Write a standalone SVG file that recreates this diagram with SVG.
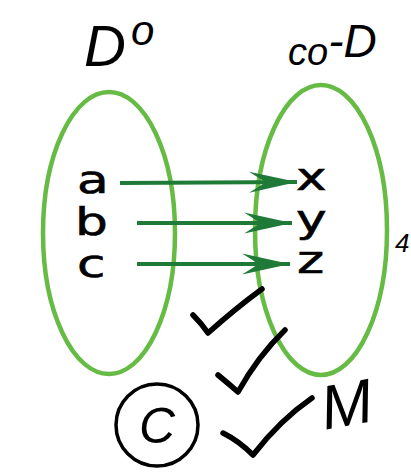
<svg xmlns="http://www.w3.org/2000/svg" width="411" height="476" viewBox="0 0 411 476">
<defs>
<style>
.set{fill:none;stroke:#66bb44;stroke-width:4.5}
.lbl{font-family:"DejaVu Sans",sans-serif;font-size:37px;fill:#000;stroke:#000;stroke-width:0.6}
.hand{font-family:"Liberation Sans",sans-serif;font-style:italic;fill:#000}
.ink{fill:none;stroke:#000;stroke-width:5.5;stroke-linecap:round;stroke-linejoin:round}
.arr{fill:none;stroke:#1f7a38;stroke-width:4;marker-end:url(#head)}
</style>
<marker id="head" markerUnits="userSpaceOnUse" markerWidth="50" markerHeight="24" viewBox="-47 -11 48 22" refX="0" refY="0" orient="auto">
<polygon points="0,0 -46,-10 -30,0 -46,10" fill="#1f7a38"/>
</marker>
</defs>
<rect width="411" height="476" fill="#fff"/>
<g id="domain">
<ellipse class="set" cx="109" cy="233" rx="66" ry="141"/>
<text class="lbl" transform="translate(77,193) scale(1.4,1)">a</text>
<text class="lbl" transform="translate(75,235) scale(1.4,1)">b</text>
<text class="lbl" transform="translate(77,277) scale(1.4,1)">c</text>
</g>
<g id="codomain">
<ellipse class="set" cx="321" cy="230" rx="66" ry="145"/>
<text class="lbl" transform="translate(296,190) scale(1.4,1)">x</text>
<text class="lbl" transform="translate(296,232) scale(1.4,1)">y</text>
<text class="lbl" transform="translate(297,273) scale(1.4,1)">z</text>
</g>
<g id="connectors">
<line class="arr" x1="120" y1="183" x2="297" y2="182"/>
<line class="arr" x1="137" y1="223" x2="292" y2="223"/>
<line class="arr" x1="137" y1="264" x2="290" y2="264"/>
</g>
<g id="annotations">
<text class="hand" x="84" y="66" font-size="58">D</text>
<text class="hand" x="131" y="45" font-size="42">o</text>
<text class="hand" x="288" y="65" font-size="38">co<tspan font-size="46" dy="-8">-D</tspan></text>
<text class="hand" x="395" y="252" font-size="26">4</text>
<path class="ink" d="M193,315 Q202,324 208,333 Q236,308 262,289"/>
<path class="ink" d="M218,375 Q229,384 238,392 Q258,356 285,330"/>
<path class="ink" d="M223,433 Q239,441 253,455 Q280,420 312,398"/>
<circle cx="157" cy="425" r="41" fill="none" stroke="#000" stroke-width="3.5"/>
<text class="hand" x="157" y="443" font-size="50" text-anchor="middle">C</text>
<text class="hand" x="320" y="425" font-size="62" transform="rotate(-10 350 400)">M</text>
</g>
</svg>
